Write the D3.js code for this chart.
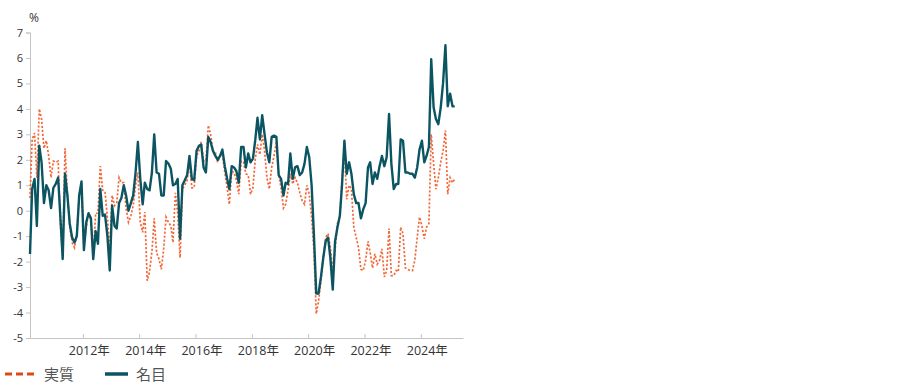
<!DOCTYPE html>
<html>
<head>
<meta charset="utf-8">
<script src="https://cdn.jsdelivr.net/npm/d3@7"></script>
<style>
  body { margin: 0; background: #fff; }
  text { font-family: "Open Sans", "Noto Sans CJK JP", sans-serif; }
</style>
</head>
<body>
<svg id="chart" width="924" height="392"></svg>
<script>
// 月次データ 2010年2月 ～ 2025年3月（前年比、%）
var startYear = 2010, startMonth = 1; // 0始まり: 1 = 2月

var nominal = [
  -1.7, 0.85, 1.25, -0.6, 2.55, 1.9, 0.3, 1.0, 0.8, 0.1, 0.9, 1.05,
  1.3, -0.2, -1.9, 1.45, 0.6, -0.5, -1.05, -1.25, -1.0, 0.6, 1.15, -1.55,
  -0.45, -0.1, -0.3, -1.9, -0.8, -1.3, 0.85, -0.2, -0.15, -1.0, -2.35, 0.2,
  -0.6, -0.7, 0.3, 0.5, 1.0, 0.6, 0.0, 0.3, 0.6, 1.5, 2.7, 1.25,
  0.25, 1.1, 0.85, 0.8, 1.5, 3.0, 1.5, 1.45, 0.6, 0.6, 1.95, 1.85,
  1.65, 1.0, 1.05, 1.25, -1.1, 1.0, 1.2, 1.4, 2.15, 1.25, 1.2, 2.35,
  2.55, 2.6, 1.7, 1.5, 2.9, 2.7, 2.35, 2.15, 2.0, 2.15, 2.4, 1.75,
  1.25, 0.85, 1.75, 1.7, 1.55, 1.1, 2.5, 2.5, 1.7, 2.25, 1.9, 2.05,
  2.8, 3.65, 2.8, 3.75, 3.0, 2.3, 1.9, 2.9, 2.95, 2.9, 1.4, 1.25,
  0.6, 1.1, 1.05, 2.25, 1.25, 1.7, 1.75, 1.4, 1.5, 1.85, 2.5, 2.1,
  1.0, -0.9, -3.25, -3.25, -2.6, -1.85, -1.2, -1.05, -1.85, -3.1, -1.2, -0.65,
  -0.2, 1.0, 2.75, 1.45, 1.9, 1.45, 0.65, 0.3, 0.3, -0.3, 0.05, 0.3,
  1.7, 1.9, 1.05, 1.5, 1.25, 1.75, 2.15, 1.75, 2.1, 3.8, 1.85, 0.85,
  1.05, 1.05, 2.8, 2.75, 1.5, 1.5, 1.45, 1.45, 1.3, 1.7, 2.4, 2.75,
  1.9, 2.15, 2.5, 5.95, 4.05, 3.6, 3.4, 4.05, 5.0, 6.5, 4.1, 4.6,
  4.1, 4.1
];

var real = [
  0.5, 2.8, 3.05, 1.3, 4.0, 3.6, 2.45, 2.75, 2.15, 1.3, 1.95, 1.9,
  1.95, -0.5, -1.8, 2.45, 0.7, -0.6, -1.25, -1.45, -0.9, 0.6, 1.05, -1.45,
  -0.65, -0.1, -0.4, -1.8, -0.1, -0.1, 1.75, 0.8, 0.75, -0.3, -1.65, 0.6,
  0.2, 0.3, 1.3, 1.1, 1.1, 0.1, -0.45, -0.2, 0.2, 1.0, 1.5, -0.45,
  -0.85, -0.05, -2.75, -2.4, -1.6, -0.3, -1.65, -1.9, -2.3, -1.5, -0.25, -0.45,
  -0.6, -1.25, 0.7, -0.1, -1.85, 0.85, 1.0, 1.2, 1.9, 0.9, 0.9, 2.15,
  2.35, 2.7, 1.95, 1.95, 3.35, 3.0, 2.35, 2.3, 1.9, 2.2, 2.2, 1.5,
  0.9, 0.25, 1.55, 1.5, 1.2, 0.65, 1.95, 1.9, 1.45, 1.4, 0.65, 0.9,
  2.05, 2.6, 2.2, 3.0, 2.35, 1.3, 0.85, 1.7, 2.15, 2.7, 1.4, 0.9,
  0.1, 0.25, 0.8, 1.45, 1.05, 1.3, 1.1, 0.7, 0.4, 0.25, 1.0, 0.65,
  -0.25, -1.55, -4.05, -3.55, -2.75, -1.85, -1.05, -0.9, -1.45, -2.35, -1.55, -0.5,
  -0.25, 1.3, 2.4, 0.45, 1.0, 0.85, -0.65, -1.05, -1.45, -2.3, -2.35, -1.95,
  -1.2, -1.65, -2.25, -1.7, -2.1, -1.95, -1.5, -2.6, -2.35, -0.7, -2.55, -2.55,
  -2.35, -2.4, -0.65, -0.9, -2.25, -2.3, -2.35, -2.35, -1.95, -1.05, -0.25, -0.6,
  -1.1, -0.65, -0.5, 3.0, 1.85, 0.85, 1.3, 1.9, 2.35, 3.15, 0.65, 1.3,
  1.1, 1.25
];

var yTicks = [7, 6, 5, 4, 3, 2, 1, 0, -1, -2, -3, -4, -5];
var xTickYears = [2012, 2014, 2016, 2018, 2020, 2022, 2024];
var seriesNames = ["実質", "名目"];

var months = nominal.map(function(d, i) {
  return new Date(startYear, startMonth + i, 15);
});

var svg = d3.select("#chart");

var x = d3.scaleTime()
  .domain([new Date(2010, 1, 15), new Date(2025, 6, 1)])
  .range([30, 463]);

var y = d3.scaleLinear()
  .domain([-5, 7])
  .range([338, 32.5]);

// y軸
var yAxis = svg.append("g")
  .attr("transform", "translate(30,0)")
  .call(d3.axisLeft(y).tickValues(yTicks).tickSize(4).tickPadding(3)
    .tickFormat(function(d) { return d < 0 ? "-" + Math.abs(d) : d; }));
yAxis.select(".domain").attr("stroke", "#c4c4c4");
yAxis.selectAll(".tick line").attr("stroke", "#c4c4c4");
yAxis.selectAll("text").attr("fill", "#333").style("font-size", "11px");

// x軸
var xAxis = svg.append("g")
  .attr("transform", "translate(0,338)")
  .call(d3.axisBottom(x)
    .tickValues(xTickYears.map(function(yr) { return new Date(yr, 0, 1); }))
    .tickSize(-4).tickSizeOuter(0)
    .tickFormat(function(d) { return d.getFullYear() + "年"; }));
xAxis.select(".domain").attr("stroke", "#c4c4c4");
xAxis.selectAll(".tick line").attr("stroke", "#c4c4c4");
xAxis.selectAll("text")
  .attr("fill", "#333")
  .attr("dx", 6)
  .attr("y", 8)
  .style("font-size", "12.5px");

svg.append("text")
  .attr("x", 29)
  .attr("y", 22)
  .attr("fill", "#333")
  .style("font-size", "12px")
  .text("%");

var line = function(values) {
  return d3.line()
    .x(function(d, i) { return x(months[i]); })
    .y(function(d) { return y(d); })(values);
};

// 実質（点線）
svg.append("path")
  .attr("d", line(real))
  .attr("fill", "none")
  .attr("stroke", "#f26a3c")
  .attr("stroke-width", 1.7)
  .attr("stroke-dasharray", "2.2,1.8");

// 名目
svg.append("path")
  .attr("d", line(nominal))
  .attr("fill", "none")
  .attr("stroke", "#0b5563")
  .attr("stroke-width", 2.4)
  .attr("stroke-linejoin", "round");

// 凡例
var legend = svg.append("g");
legend.append("line")
  .attr("x1", 5).attr("x2", 34).attr("y1", 374).attr("y2", 374)
  .attr("stroke", "#de4a16").attr("stroke-width", 3)
  .attr("stroke-dasharray", "7,4");
legend.append("text")
  .attr("x", 44).attr("y", 380)
  .attr("fill", "#555")
  .style("font-size", "15px")
  .style("font-family", "'Noto Sans CJK JP'")
  .text(seriesNames[0]);
legend.append("line")
  .attr("x1", 105).attr("x2", 128).attr("y1", 374).attr("y2", 374)
  .attr("stroke", "#0b5563").attr("stroke-width", 3.5);
legend.append("text")
  .attr("x", 136).attr("y", 380)
  .attr("fill", "#555")
  .style("font-size", "15px")
  .style("font-family", "'Noto Sans CJK JP'")
  .text(seriesNames[1]);
</script>
</body>
</html>
